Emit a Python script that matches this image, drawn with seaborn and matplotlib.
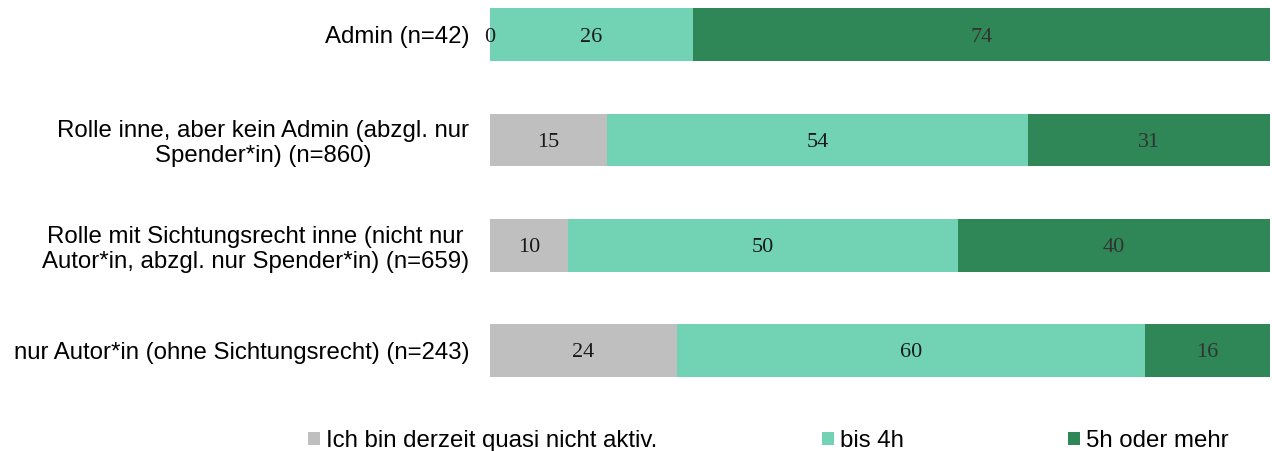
import numpy as np
import pandas as pd
import matplotlib
matplotlib.use("Agg")
import matplotlib.pyplot as plt
from matplotlib.patches import Patch
import seaborn as sns

# data (percent)
categories = [
    "Admin (n=42)",
    "Rolle inne, aber kein Admin (abzgl. nur\nSpender*in) (n=860)",
    "Rolle mit Sichtungsrecht inne (nicht nur\nAutor*in, abzgl. nur Spender*in) (n=659)",
    "nur Autor*in (ohne Sichtungsrecht) (n=243)",
]
series_names = ["Ich bin derzeit quasi nicht aktiv.", "bis 4h", "5h oder mehr"]
not_active = [0, 15, 10, 24]
up_to_4h = [26, 54, 50, 60]
five_plus = [74, 31, 40, 16]

colors = ["#BFBFBF", "#71D3B4", "#2F8656"]
label_colors = ["#1a1a1a", "#1a1a1a", "#333333"]

sns.set_theme(style="white")
plt.rcParams["font.family"] = ["Liberation Sans", "DejaVu Sans"]

values = np.array([not_active, up_to_4h, five_plus], dtype=float)
right = values.cumsum(axis=0)
left = right - values

fig = plt.figure(figsize=(12.72, 4.51), dpi=100)
ax = fig.add_axes([490 / 1272, 1 - 392.6 / 451, 780 / 1272, 392.6 / 451])

# layered bars: draw the longest cumulative first so shorter ones sit on top
for i in reversed(range(len(series_names))):
    df = pd.DataFrame({"cat": categories, "val": right[i]})
    sns.barplot(data=df, x="val", y="cat", color=colors[i], orient="h",
                width=0.5, saturation=1, ax=ax, edgecolor="none")

for i in range(len(series_names)):
    for j in range(len(categories)):
        ax.text(left[i, j] + values[i, j] / 2, j, f"{values[i, j]:.0f}",
                ha="center", va="center_baseline", fontsize=16,
                family="Liberation Serif", color=label_colors[i])

ax.set_xlim(0, 100)
ax.set_ylim(3.4, -0.33)
ax.set_xlabel("")
ax.set_ylabel("")
ax.set_xticks([])
ax.tick_params(axis="y", length=0, pad=15, labelsize=17.3, labelcolor="black")
for lbl in ax.get_yticklabels():
    lbl.set_multialignment("center")
    lbl.set_linespacing(1.17)
sns.despine(ax=ax, left=True, bottom=True)

handles = [Patch(facecolor=c, edgecolor="none") for c in colors]
fig.legend(handles, series_names, loc="center", bbox_to_anchor=(0.604, 0.022),
           ncol=3, frameon=False, fontsize=17.3, handlelength=0.5,
           handleheight=0.5, handletextpad=0.25, columnspacing=6.85,
           borderpad=0, borderaxespad=0, labelcolor="black")

fig.savefig("out.png", dpi=100)
